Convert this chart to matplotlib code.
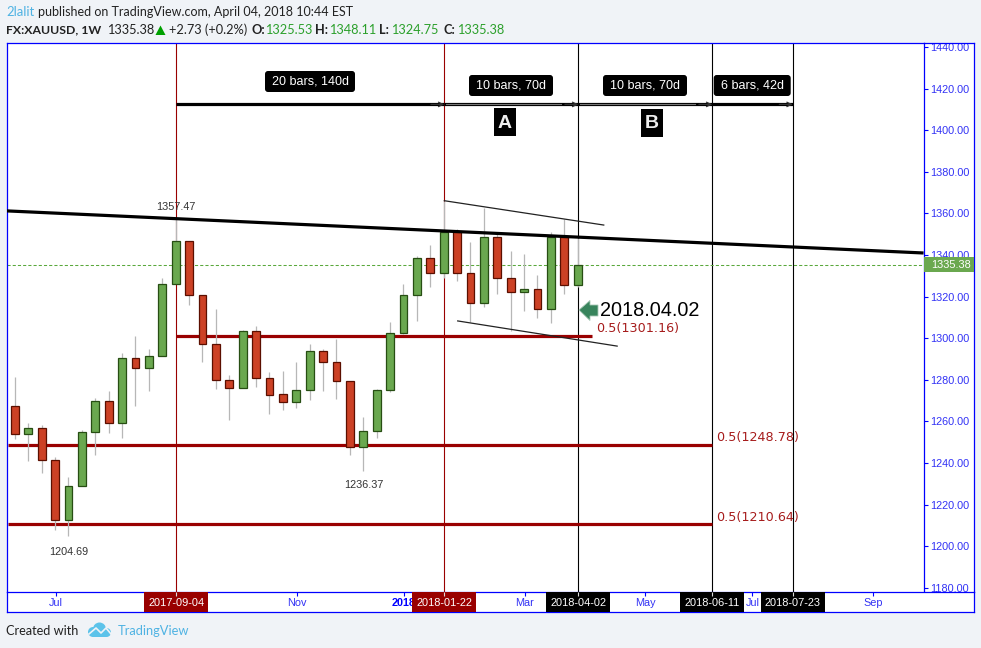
import numpy as np
import matplotlib
matplotlib.use('Agg')
import matplotlib.pyplot as plt
from matplotlib.patches import Polygon, Circle, Rectangle, FancyBboxPatch

# weekly candles, bar 0 = 2017-09-04
bars = list(range(-12, 31))
opens = [1267.3, 1253.8, 1256.7, 1241.3, 1212.5, 1228.8, 1254.8, 1269.7, 1259.1, 1290.3, 1285.5, 1291.3,
         1325.9, 1346.6, 1320.6, 1297.0, 1279.8, 1275.9, 1303.3, 1280.7, 1273.0, 1269.2, 1274.9, 1293.7,
         1288.4, 1279.3, 1247.7, 1255.4, 1275.0, 1302.3, 1320.6, 1338.4, 1331.5, 1351.0, 1331.2, 1316.8,
         1348.5, 1328.8, 1322.1, 1323.5, 1313.9, 1348.5, 1325.53]
highs = [1281.5, 1259.1, 1258.3, 1242.7, 1233.1, 1255.9, 1271.3, 1274.4, 1293.0, 1301.0, 1294.8, 1328.9,
         1357.47, 1346.6, 1320.6, 1314.0, 1282.3, 1303.9, 1306.1, 1283.8, 1284.2, 1288.6, 1297.2, 1294.8,
         1299.6, 1279.3, 1262.1, 1275.5, 1307.8, 1326.0, 1339.5, 1344.8, 1366.1, 1352.4, 1346.2, 1362.5,
         1351.2, 1341.8, 1340.5, 1330.4, 1350.9, 1357.2, 1348.11]
lows = [1251.5, 1241.1, 1235.3, 1207.8, 1204.69, 1228.8, 1244.0, 1254.6, 1252.2, 1267.6, 1274.8, 1291.3,
        1325.9, 1316.1, 1288.6, 1275.7, 1260.8, 1275.9, 1276.7, 1263.6, 1265.5, 1266.4, 1270.3, 1274.8,
        1270.8, 1243.8, 1236.37, 1252.0, 1274.0, 1302.0, 1308.4, 1324.6, 1328.8, 1327.6, 1307.6, 1314.9,
        1321.4, 1303.3, 1313.2, 1309.8, 1307.4, 1321.4, 1324.75]
closes = [1253.8, 1256.7, 1241.3, 1212.5, 1228.8, 1254.8, 1269.7, 1259.1, 1290.5, 1285.5, 1291.3, 1325.9,
          1346.6, 1320.6, 1297.0, 1279.8, 1275.9, 1303.3, 1280.7, 1272.8, 1269.2, 1274.9, 1293.7, 1288.4,
          1279.3, 1247.7, 1255.4, 1275.0, 1302.3, 1320.6, 1338.4, 1331.5, 1351.0, 1331.2, 1316.8, 1348.5,
          1328.8, 1322.1, 1323.5, 1313.9, 1348.5, 1325.5, 1335.38]

# axis labels
price_ticks = [1180, 1200, 1220, 1240, 1260, 1280, 1300, 1320, 1340, 1360, 1380, 1400, 1420, 1440]
month_bars = [-9, 9, 26, 35, 43, 52]
month_labels = ['Jul', 'Nov', 'Mar', 'May', 'Jul', 'Sep']
year_bar = 17
date_bars = [0, 20, 30, 40, 46]
date_labels = ['2017-09-04', '2018-01-22', '2018-04-02', '2018-06-11', '2018-07-23']
date_colors = ['#990000', '#990000', '#000000', '#000000', '#000000']

# drawings
level_values = [1301.16, 1248.78, 1210.64]
level_starts = [0, -12.55, -12.55]
level_ends = [31.05, 39.95, 39.95]
level_label_bars = [31.3, 40.3, 40.3]

span_starts = [0, 20, 30, 40]
span_ends = [20, 30, 40, 46]
span_labels = ['20 bars, 140d', '10 bars, 70d', '10 bars, 70d', '6 bars, 42d']
span_pill_widths = [90, 84, 84, 77]
span_pill_tops = [71, 75, 75, 75]

BLUE = '#0000ff'
TICK = '#3232f5'
BG = '#f0f3f7'
GREEN = '#6aa84f'
GREEN_EDGE = '#274e13'
RED = '#cc4125'
RED_EDGE = '#5b0f00'
DARK_RED = '#990000'
TV_BLUE = '#4fb3e3'

W, H = 981, 648
PITCH = 13.4      # pixels per bar
X0 = 176.3        # pixel of bar 0
Y_TOP, Y_BOT = 43, 592
RIGHT = 924
OUTER = 974
plt.rcParams['font.family'] = 'Liberation Sans'


def make_ax(l, t, r, b):
    return fig.add_axes([l / W, 1 - b / H, (r - l) / W, (b - t) / H])


def bar_at(px):
    return (px - X0) / PITCH


def price_at(py):
    return 1440 - (py - 47) / 2.08


fig = plt.figure(figsize=(W / 100, H / 100), dpi=100, facecolor=BG)

ax = make_ax(6.5, Y_TOP, RIGHT, Y_BOT)
ax_price = make_ax(RIGHT, Y_TOP, OUTER, Y_BOT)
ax_time = make_ax(6.5, Y_BOT, OUTER, 611.5)
ax_px = fig.add_axes([0, 0, 1, 1], zorder=10)
ax_px.set_xlim(0, W)
ax_px.set_ylim(H, 0)
ax_px.axis('off')

ylim = (price_at(Y_BOT), price_at(Y_TOP))
ax.set_xlim(bar_at(6.5), bar_at(RIGHT))
ax.set_ylim(ylim)
ax.set_xticks([])
ax.set_yticks([])
for name, s in ax.spines.items():
    s.set_color(BLUE)
    s.set_linewidth(0.9)
    s.set_visible(name in ('left', 'top'))

# price scale
ax_price.set_ylim(ylim)
ax_price.set_xlim(0, 1)
ax_price.set_xticks([])
ax_price.set_yticks(price_ticks)
ax_price.yaxis.tick_right()
ax_price.tick_params(axis='y', direction='in', left=True, right=False, labelleft=True, labelright=False,
                     length=3, width=0.8, color=BLUE, pad=-4.1, labelsize=7.8, labelcolor=TICK)
ax_price.set_yticklabels(['%.2f' % p for p in price_ticks], ha='left')
for lab in ax_price.get_yticklabels():
    lab.set_clip_on(True)
    lab.set_clip_box(ax_price.bbox)
for name, s in ax_price.spines.items():
    s.set_color(BLUE)
    s.set_linewidth(0.9)
    s.set_visible(name != 'bottom')

# time scale
ax_time.set_xlim(bar_at(6.5), bar_at(OUTER))
ax_time.set_ylim(0, 1)
ax_time.set_yticks([])
ax_time.set_xticks(month_bars + [year_bar])
ax_time.xaxis.tick_top()
ax_time.tick_params(axis='x', direction='in', length=3, width=0.8, color=BLUE, labeltop=False)
for b, lab in zip(month_bars, month_labels):
    ax_time.text(b, 0.43, lab, ha='center', va='center', fontsize=7.8, color=TICK, zorder=2)
ax_time.text(year_bar, 0.43, '2018', ha='center', va='center', fontsize=7.8, color=BLUE,
             fontweight='bold', zorder=2)
for b, lab, c in zip(date_bars, date_labels, date_colors):
    ax_time.axvspan(b - 2.39, b + 2.39, color=c, lw=0, zorder=3)
    ax_time.vlines(b, 0.8, 1, color='#dddddd', lw=0.8, zorder=4)
    ax_time.text(b, 0.43, lab, ha='center', va='center', fontsize=7.9, color='white', zorder=4)
for s in ax_time.spines.values():
    s.set_color(BLUE)
    s.set_linewidth(0.9)

# vertical date lines
for b, c in zip(date_bars, date_colors):
    ax.axvline(b, color=c, lw=0.8, zorder=1)

# 0.5 levels
for v, a, e, lb in zip(level_values, level_starts, level_ends, level_label_bars):
    ax.plot([a, e], [v, v], color=DARK_RED, lw=2.3, solid_capstyle='butt', zorder=2)
    ax.text(lb, v + 3.3, '0.5(%.2f)' % v, family='DejaVu Sans', fontsize=9.2, color='#a61c1c',
            ha='left', va='center', zorder=6)

# last price line
ax.axhline(closes[-1], color='#5aa83c', lw=0.75, ls=(0, (3, 2)), snap=True, zorder=2)

# candles
for b, o, h, l, c in zip(bars, opens, highs, lows, closes):
    up = c >= o
    ax.vlines(b - 0.05, l, h, color='#b7b7b7', lw=0.9, zorder=3)
    ax.bar(b - 0.05, abs(c - o), bottom=min(o, c), width=0.58, color=GREEN if up else RED,
           edgecolor=GREEN_EDGE if up else RED_EDGE, linewidth=0.9, zorder=4)

# trend lines
ax.plot([bar_at(7), bar_at(922)], [1361.2, 1341.0], color='black', lw=2.3, zorder=5)
ax.plot([20, 31.9], [1366.1, 1354.4], color='#222222', lw=0.9, zorder=5)
ax.plot([21, 32.9], [1308.3, 1296.2], color='#222222', lw=0.9, zorder=5)

# bar spans
for i, (a, e) in enumerate(zip(span_starts, span_ends)):
    ax.plot([a, e], [1412.4, 1412.4], color='black', lw=2.3, solid_capstyle='butt', zorder=5)
    if i in (1, 2):
        ax.plot([a + 0.1, e - 1.3], [1412.4, 1412.4], color='#777777', lw=0.8, zorder=5)
    ax.annotate('', xy=(e, 1412.4), xytext=(e - 1, 1412.4),
                arrowprops=dict(arrowstyle='->', lw=0.9, color='#333333', mutation_scale=8,
                                shrinkA=0, shrinkB=0), zorder=5)

for a, e, lab, w, top in zip(span_starts, span_ends, span_labels, span_pill_widths, span_pill_tops):
    cx = X0 + PITCH * (a + e) / 2 - 0.3
    ax_px.add_patch(FancyBboxPatch((cx - w / 2, top), w, 21, boxstyle='round,pad=0,rounding_size=3',
                                   fc='black', ec='none'))
    ax_px.text(cx, top + 10.5, lab, ha='center', va='center', fontsize=9, color='white')

# A and B boxes
ax_px.add_patch(Rectangle((494, 108), 22, 28, fc='black', lw=0))
ax_px.text(505, 123, 'A', ha='center', va='center', fontsize=14, fontweight='bold', color='#eeeeee')
ax_px.add_patch(Rectangle((641, 109), 22, 28, fc='black', lw=0))
ax_px.text(652, 124, 'B', ha='center', va='center', fontsize=14, fontweight='bold', color='#eeeeee')

# high / low notes
ax.text(0, highs[12] + 5.4, '%.2f' % highs[12], ha='center', va='center', fontsize=7.8, color='#333333', zorder=6)
ax.text(-8, lows[4] - 7.4, '%.2f' % lows[4], ha='center', va='center', fontsize=7.8, color='#333333', zorder=6)
ax.text(14, lows[26] - 7.0, '%.2f' % lows[26], ha='center', va='center', fontsize=7.8, color='#333333', zorder=6)

# date note with arrow
ax.text(bar_at(600), 1313.2, '2018.04.02', ha='left', va='center', fontsize=14.3, color='black', zorder=6)
ax_px.add_patch(Polygon([(579, 310), (590, 300.5), (590, 305), (598, 305), (598, 316), (590, 316), (590, 320.5)],
                        closed=True, fc='#38845c', ec='#a9c9b6', lw=0.6))

# last price tag
ax_price.axhspan(closes[-1] - 3.7, closes[-1] + 3.7, color=GREEN, lw=0, zorder=5)
ax_price.text(0.54, closes[-1], '%.2f' % closes[-1], ha='center', va='center', fontsize=7.8, color='white', zorder=6)

# header
LATO = 'Lato'
FS = 9.2
ax_px.text(6, 12, '2lalit', family=LATO, fontsize=9.4, color=TV_BLUE, va='center')
ax_px.text(38, 12, 'published on TradingView.com, April 04, 2018 10:44 EST', family=LATO, fontsize=9.0,
           color='#222222', va='center')
ax_px.text(6, 30, 'FX:XAUUSD, 1W', family=LATO, fontsize=8.8, fontweight='bold', color='#222222', va='center')
ax_px.text(107, 30, '1335.38', family=LATO, fontsize=FS, color='#222222', va='center')
ax_px.add_patch(Polygon([(155.5, 35), (160.5, 25.5), (165.5, 35)], closed=True, fc='#00a000', lw=0))
ax_px.text(169, 30, '+2.73 (+0.2%)', family=LATO, fontsize=FS, color='#222222', va='center')
for x, lab in zip([251, 315, 379, 444], ['O:', 'H:', 'L:', 'C:']):
    ax_px.text(x, 30, lab, family=LATO, fontsize=FS, fontweight='bold', color='#222222', va='center')
for x, v in zip([265, 329, 391, 457], [opens[-1], highs[-1], lows[-1], closes[-1]]):
    ax_px.text(x, 30, '%.2f' % v, family=LATO, fontsize=FS, color='#2ca02c', va='center')

# footer
ax_px.text(6, 631, 'Created with', family=LATO, fontsize=FS, color='#222222', va='center')
ax_px.text(118, 631, 'TradingView', family=LATO, fontsize=9.3, color=TV_BLUE, va='center')
for cx, cy, r in [(93, 632, 5), (99.5, 629, 6.5), (106.5, 632.5, 4.5)]:
    ax_px.add_patch(Circle((cx, cy), r, fc='#5cc3ea', lw=0))
ax_px.add_patch(Rectangle((93, 632), 13, 5, fc='#5cc3ea', lw=0))
ax_px.plot([89, 96, 101, 106, 111], [634, 628, 633, 628, 634], color=BG, lw=1.2)

fig.savefig('out.png', dpi=100, facecolor=BG)
